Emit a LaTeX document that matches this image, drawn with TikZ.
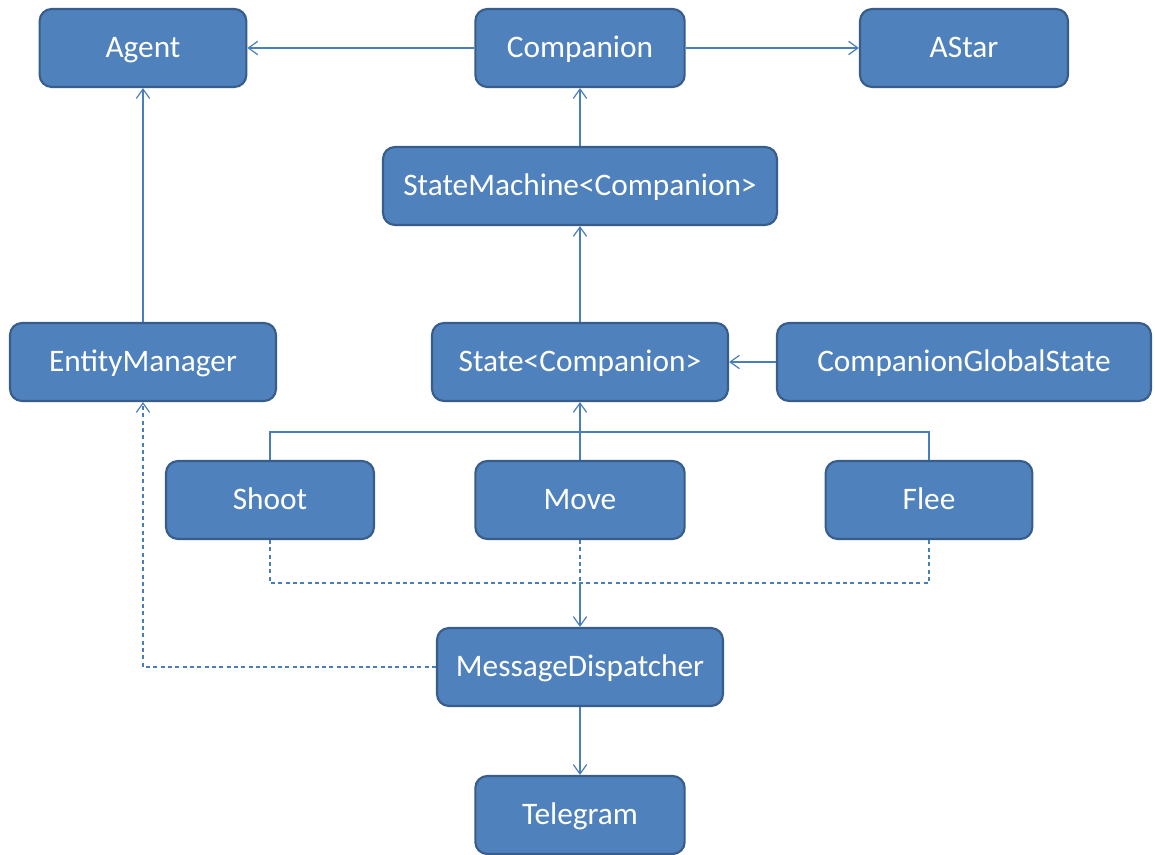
\documentclass[tikz,border=0pt]{standalone}
\usepackage{fontspec}
\setmainfont{Carlito}
\usetikzlibrary{arrows.meta}
\definecolor{boxfill}{HTML}{4F81BD}
\definecolor{boxline}{HTML}{385D8A}
\definecolor{linkcol}{HTML}{4A7EBB}
\begin{document}
\begin{tikzpicture}[x=0.75pt,y=-0.75pt,
  box/.style={draw=boxline,fill=boxfill,line width=1.6pt,rounded corners=9pt,
    minimum height=58.5pt,inner sep=0pt,text=white,
    text height=17pt,text depth=2.5pt,
    font=\fontsize{23.5}{27}\selectfont},
  link/.style={draw=linkcol,line width=0.9pt},
  tip/.style={-{Straight Barb[length=7pt,width=10pt,line width=0.9pt]}},
  dashedlink/.style={dash pattern=on 3pt off 2.5pt}]
\useasboundingbox (0,0) rectangle (1155,855);
% class boxes
\node[box,minimum width=155pt] (agent) at (143,48) {Agent};
\node[box,minimum width=157pt] (comp) at (580,48) {Companion};
\node[box,minimum width=156pt] (astar) at (964,48) {AStar};
\node[box,minimum width=295.5pt] (sm) at (580,186) {StateMachine<Companion>};
\node[box,minimum width=199.5pt] (em) at (143,362) {EntityManager};
\node[box,minimum width=222pt] (state) at (580,362) {State<Companion>};
\node[box,minimum width=280.5pt] (cgs) at (964,362) {CompanionGlobalState};
\node[box,minimum width=156pt] (shoot) at (270,500) {Shoot};
\node[box,minimum width=157pt] (move) at (580,500) {Move};
\node[box,minimum width=155pt] (flee) at (929,500) {Flee};
\node[box,minimum width=214.5pt] (md) at (580,667) {MessageDispatcher};
\node[box,minimum width=157pt] (tele) at (580,815) {Telegram};
% junction points of the state tree
\coordinate (tj) at (580,432);
\coordinate (dj) at (580,583);
% solid associations
\draw[link,tip] (comp.west) -- (agent.east);
\draw[link,tip] (comp.east) -- (astar.west);
\draw[link,tip] (sm.north) -- (comp.south);
\draw[link,tip] (state.north) -- (sm.south);
\draw[link,tip] (cgs.west) -- (state.east);
\draw[link,tip] (em.north) -- (agent.south);
\draw[link] (shoot.north) |- (tj) -| (flee.north);
\draw[link,tip] (move.north) -- (state.south);
\draw[link,tip] (md.south) -- (tele.north);
% dashed dependencies
\draw[link,dashedlink] (shoot.south) |- (dj) -| (flee.south);
\draw[link,dashedlink] (move.south) -- (dj);
\draw[link,tip] (dj) -- (md.north);
\draw[link,dashedlink,tip] (md.west) -| (em.south);
\end{tikzpicture}
\end{document}
